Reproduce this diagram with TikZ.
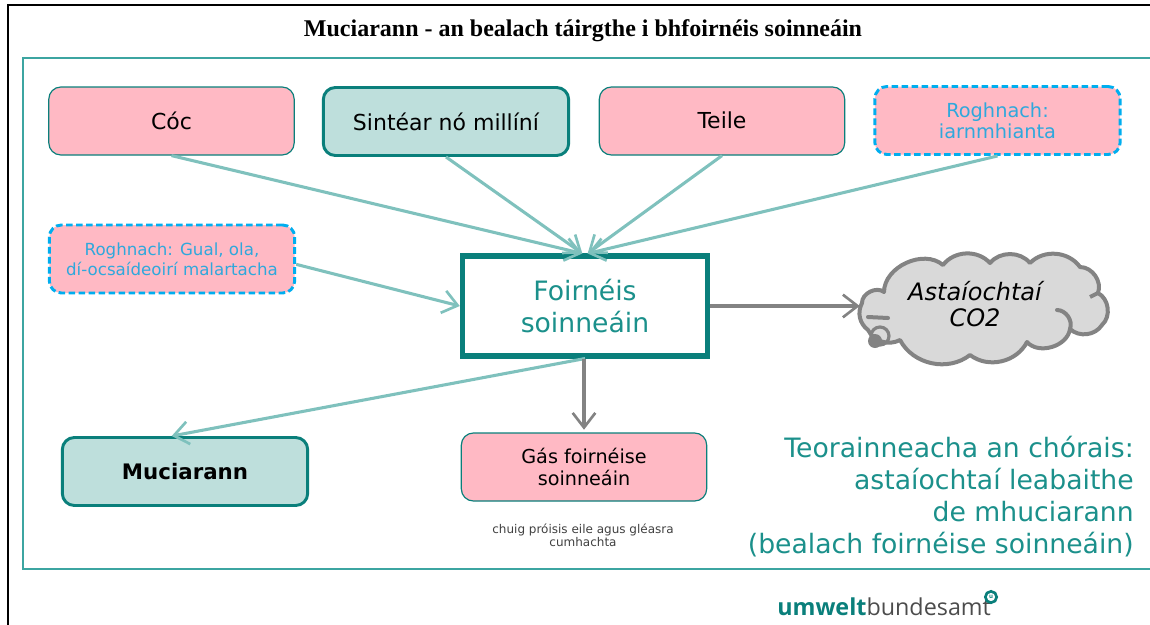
\documentclass[tikz,border=0pt]{standalone}
\usepackage{fontspec}
\setmainfont{DejaVu Sans}
\newfontfamily\titlefont{Liberation Serif}
\newfontfamily\logofont{Open Sans}
\usetikzlibrary{arrows.meta,calc,positioning}
\definecolor{framecol}{HTML}{3CA5A1}
\definecolor{darkteal}{HTML}{0A7F7B}
\definecolor{textteal}{HTML}{1B908B}
\definecolor{lightteal}{HTML}{7FC1BD}
\definecolor{boxpink}{HTML}{FFB9C4}
\definecolor{boxteal}{HTML}{BEDFDC}
\definecolor{optblue}{HTML}{00AEEF}
\definecolor{opttext}{HTML}{2FA8DC}
\definecolor{arrowgrey}{HTML}{838383}
\definecolor{cloudgrey}{HTML}{D9D9D9}
\tikzset{
  box/.style={rectangle, rounded corners=9pt, minimum width=184pt, minimum height=51pt, inner sep=0pt, align=center},
  pinkbox/.style={box, fill=boxpink, draw=darkteal, line width=0.9pt, font=\fontsize{16.5}{17}\selectfont},
  tealbox/.style={box, fill=boxteal, draw=darkteal, line width=2.2pt, font=\fontsize{16.5}{17}\selectfont},
  optbox/.style={box, fill=boxpink, draw=optblue, line width=2.2pt, dash pattern=on 5pt off 2.5pt, text=opttext, font=\fontsize{12.5}{15}\selectfont},
  feed/.style={draw=lightteal, line width=2.3pt, -{Straight Barb[length=11pt,width=17pt,line width=2pt]}},
  grey/.style={draw=arrowgrey, line width=2.3pt, -{Straight Barb[length=11pt,width=17pt,line width=2pt]}},
  lobe/.style={bend left=65},
}
\begin{document}
\begin{tikzpicture}[x=0.75pt,y=-0.75pt]
\useasboundingbox (0,0) rectangle (1150,625);
\draw[line width=2.2pt] (8,625) -- (8,5) -- (1150,5);
\draw[framecol, line width=1.3pt] (1150,58) -- (23,58) -- (23,569) -- (1150,569);
\node[font=\titlefont\bfseries\fontsize{18}{21}\selectfont] (title) at (583,31) {Muciarann - an bealach táirgthe i bhfoirnéis soinneáin};
\node[pinkbox] (coc) at (171.5,121) {\raisebox{1pt}{Cóc}};
\node[tealbox] (sintear) at (446,121.5) {\raisebox{-2pt}{Sintéar nó millíní}};
\node[pinkbox] (teile) at (722,121) {\raisebox{1pt}{Teile}};
\node[optbox, font=\fontsize{14.5}{16}\selectfont] (iarn) at (997.5,120.5) {Roghnach:\\iarnmhianta};
\node[optbox] (gual) at (172,259) {Roghnach: Gual, ola,\\dí-ocsaídeoirí malartacha};
\node[rectangle, draw=darkteal, line width=3.8pt, minimum width=184pt, minimum height=75pt, inner sep=0pt, align=center, text=textteal, font=\fontsize{20}{24}\selectfont] (foirneis) at (585,306) {Foirnéis\\soinneáin};
\node[tealbox, font=\bfseries\fontsize{16}{17}\selectfont] (muiciarann) at (185,471.5) {Muciarann};
\node[pinkbox, font=\fontsize{14.4}{16.5}\selectfont] (gas) at (584,467) {Gás foirnéise\\soinneáin};
\node[font=\fontsize{9}{8.3}\selectfont, text=black!75, align=center] (chuig) at (583,535) {chuig próisis eile agus gléasra\\cumhachta};
% cloud
\draw[arrowgrey, fill=cloudgrey, line width=3pt, line join=round]
  (862,303) to[lobe] (884,292) to[lobe] (943,265) to[lobe,bend left=50] (990,263)
  to[lobe,bend left=50] (1030,263) to[lobe,bend left=50] (1080,267) to[lobe,bend left=55] (1098,293)
  to[lobe,bend left=55] (1102,325) to[lobe,bend left=50] (1070,329) to[lobe] (1027,342)
  to[lobe,bend left=50] (970,355) to[lobe,bend left=50] (900,340) to[lobe,bend left=45] (868,330)
  to[lobe,bend left=40] (862,303) -- cycle;
\draw[arrowgrey, line width=3pt, line cap=round] (1057,310) to[bend left=55] (1070,329);
\draw[arrowgrey, line width=3pt, line cap=round] (868,317) -- (888,318);
\draw[arrowgrey, line width=3pt] (1090,297) -- (1098,293);
\draw[arrowgrey, line width=2.4pt] (880,336) circle (9);
\fill[arrowgrey] (875,341) circle (7);
\node[minimum width=172.5pt, minimum height=78pt, inner sep=0pt, align=center, font=\itshape\fontsize{18}{20}\selectfont] (co2) at (975,304) {Astaíochtaí\\CO2};
\draw[feed] (coc.south) -- ([xshift=-2pt]foirneis.north);
\draw[feed] (sintear.south) -- ([xshift=-2pt]foirneis.north);
\draw[feed] (teile.south) -- ([xshift=2pt]foirneis.north);
\draw[feed] (iarn.south) -- ([xshift=2pt]foirneis.north);
\draw[feed] ([yshift=-4pt]gual.east) -- (foirneis.west);
\draw[feed] (foirneis.south) -- ([xshift=-10pt]muiciarann.north);
\draw[grey] (gas.north |- foirneis.south) -- ([yshift=2pt]gas.north);
\draw[grey] (foirneis.east) -- (co2.west |- foirneis.east);
\node[anchor=base east, inner sep=0pt, text=textteal, align=right, font=\fontsize{20}{24}\selectfont] (limits) at (1134,553) {Teorainneacha an chórais:\\astaíochtaí leabaithe\\de mhuciarann\\(bealach foirnéise soinneáin)};
\node[anchor=base west, inner sep=0pt, font=\logofont\fontsize{17.5}{20}\selectfont, text=black!70] (logo) at (777,615) {\textcolor{darkteal}{\bfseries umwelt}bundesamt};
\node[circle, draw=darkteal, line width=2pt, inner sep=0pt, minimum width=8.5pt, font=\logofont\bfseries\fontsize{4.5}{5}\selectfont, text=darkteal] (mark) at (991,597) {u};
\end{tikzpicture}
\end{document}
